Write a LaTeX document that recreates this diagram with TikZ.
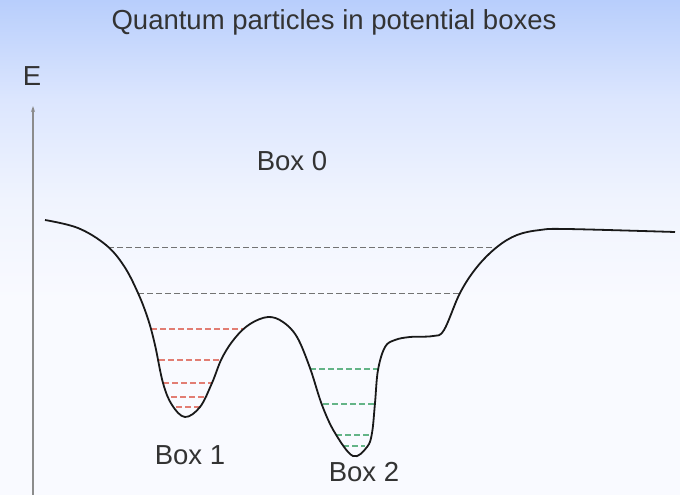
\documentclass[tikz,border=0pt]{standalone}
\usepackage{fontspec}
\setmainfont{Liberation Sans}
\usetikzlibrary{arrows.meta}
\definecolor{bgtop}{RGB}{184,206,252}
\definecolor{bgone}{RGB}{220,230,254}
\definecolor{bgtwo}{RGB}{240,244,254}
\definecolor{bgbot}{RGB}{249,250,255}
\definecolor{levelgray}{RGB}{115,115,115}
\definecolor{levelred}{RGB}{226,125,115}
\definecolor{levelgreen}{RGB}{100,180,135}
\tikzset{
  boxlabel/.style={font=\fontsize{27.5}{32}\selectfont, text=black!80},
  energylevel/.style={dash pattern=on 5.5pt off 3.5pt, line width=1.3pt},
}
\begin{document}
\begin{tikzpicture}[x=1pt, y=-1pt]
  \useasboundingbox (0,0) rectangle (680,495);
  % background
  \shade[top color=bgtop, bottom color=bgone] (0,0) rectangle (680,100);
  \shade[top color=bgone, bottom color=bgtwo] (0,100) rectangle (680,200);
  \shade[top color=bgtwo, bottom color=bgbot] (0,200) rectangle (680,300);
  \fill[bgbot] (0,300) rectangle (680,495);
  % energy axis
  \coordinate (axisbot) at (33,495); \coordinate (axistop) at (33,106);
  \draw[black!45, line width=1.5pt, -{Stealth[length=6pt,width=4pt]}] (axisbot) -- (axistop);
  \node[boxlabel] (E) at (32,76) {E};
  \node[boxlabel] (title) at (334,22) {Quantum particles in potential boxes};
  \node[boxlabel] (box0) at (292,161) {Box 0};
  \node[boxlabel] (box1) at (190,455) {Box 1};
  \node[boxlabel] (box2) at (364,472) {Box 2};
  % shared levels
  \draw[energylevel, levelgray, line width=1pt] (108,247) -- (497,247);
  \draw[energylevel, levelgray, line width=1pt] (138,293) -- (460,293);
  % box 1 levels
  \draw[energylevel, levelred] (151,329) -- (244,329);
  \draw[energylevel, levelred] (159,360) -- (221,360);
  \draw[energylevel, levelred] (163,383) -- (212,383);
  \draw[energylevel, levelred] (171,397) -- (207,397);
  \draw[energylevel, levelred] (176,407) -- (200,407);
  % box 2 levels
  \draw[energylevel, levelgreen] (310,369) -- (378,369);
  \draw[energylevel, levelgreen] (323,404) -- (374,404);
  \draw[energylevel, levelgreen] (336,435) -- (370,435);
  \draw[energylevel, levelgreen] (343,446) -- (365,446);
  % potential
  \draw[black!90, line width=1.8pt, line join=round] plot[smooth, tension=0.6] coordinates {
    (45,220) (78,228) (106,245) (124,266) (138,293) (148,319) (155,345)
    (163,383) (172,405) (185,417) (200,407) (212,383) (222,358)
    (235,338) (250,324) (268,317) (283,322) (297,337) (310,368)
    (322,405) (335,433) (353,456) (367,447) (372,433) (375,403)
    (378,370) (385,347) (395,340) (410,337) (433,336) (444,330)
    (460,293) (477,267) (497,247) (517,235) (540,230) (567,229) (675,232)};
\end{tikzpicture}
\end{document}
